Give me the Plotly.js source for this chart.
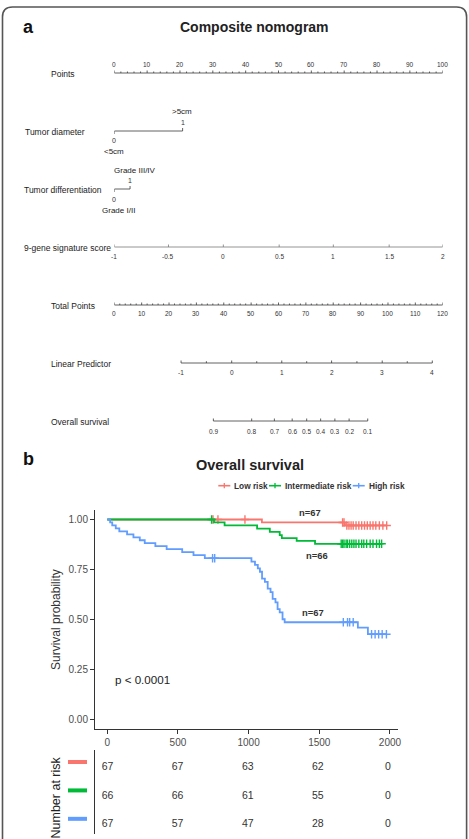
<!DOCTYPE html>
<html>
<head>
<meta charset="utf-8">
<script src="https://cdn.plot.ly/plotly-3.0.1.min.js"></script>
<style>
  html, body { margin: 0; padding: 0; background: #fff; }
  #chart { width: 469px; height: 839px; }
</style>
</head>
<body>
<div id="chart"></div>
<script>
// ---------------- Nomogram (panel a) ----------------
const pointsTicks = [0, 10, 20, 30, 40, 50, 60, 70, 80, 90, 100];
const totalTicks = [0, 10, 20, 30, 40, 50, 60, 70, 80, 90, 100, 110, 120];

const diameterLevels = ['<5cm', '>5cm'];
const diameterCodes = [0, 1];
const diameterPoints = [0, 20.8];

const gradeLevels = ['Grade I/II', 'Grade III/IV'];
const gradeCodes = [0, 1];
const gradePoints = [0, 4.8];

const scoreTicks = [-1, -0.5, 0, 0.5, 1, 1.5, 2];
const scorePoints = [0, 16.5, 33.2, 50.2, 66.7, 83.7, 100];

const lpTicks = [-1, 0, 1, 2, 3, 4];
const lpTotalPoints = [24.4, 42.9, 61.2, 79.4, 97.9, 116.2];

const osTicks = [0.9, 0.8, 0.7, 0.6, 0.5, 0.4, 0.3, 0.2, 0.1];
const osTotalPoints = [36.2, 50.2, 58.5, 65.0, 70.3, 75.4, 80.6, 85.8, 92.6];

// ---------------- Kaplan-Meier (panel b) ----------------
const groups = ['Low risk', 'Intermediate risk', 'High risk'];
const groupColors = ['#F8766D', '#00BA38', '#619CFF'];

const lowTime = [0, 1094, 1681];
const lowSurv = [1, 0.985, 0.970];
const lowCensor = [748, 783, 974, 1665, 1675, 1695, 1710, 1725, 1740, 1760, 1780, 1800, 1820, 1840, 1860, 1880, 1900, 1925, 1950, 1977];

const midTime = [0, 755, 830, 1060, 1150, 1220, 1235, 1340, 1470];
const midSurv = [1, 0.985, 0.970, 0.954, 0.938, 0.922, 0.907, 0.893, 0.878];
const midCensor = [738, 1655, 1665, 1675, 1690, 1700, 1715, 1730, 1745, 1760, 1780, 1800, 1815, 1835, 1860, 1880, 1905, 1925, 1941];

const highTime = [0, 20, 35, 60, 85, 140, 185, 230, 265, 340, 420, 530, 610, 690,
                  1020, 1045, 1065, 1080, 1095, 1115, 1135, 1155, 1170, 1190, 1205, 1220, 1240, 1255,
                  1773, 1844];
const highSurv = [1, 0.985, 0.970, 0.955, 0.940, 0.925, 0.910, 0.896, 0.881, 0.866, 0.851, 0.836, 0.821, 0.806,
                  0.789, 0.772, 0.755, 0.738, 0.704, 0.687, 0.653, 0.636, 0.602, 0.585, 0.551, 0.534, 0.500, 0.485,
                  0.458, 0.425];
const highCensor = [745, 760, 1670, 1700, 1715, 1740, 1870, 1895, 1920, 1945, 1975];

const groupCounts = ['n=67', 'n=66', 'n=67'];
const pValueText = 'p < 0.0001';

// Number at risk table
const riskTimes = [0, 500, 1000, 1500, 2000];
const lowRisk = [67, 67, 63, 62, 0];
const midRisk = [66, 66, 61, 55, 0];
const highRisk = [67, 57, 47, 28, 0];

// ---------------- helpers ----------------
const W = 469, H = 839;
const FONT = 'Liberation Sans, Arial, Helvetica, sans-serif';
const px = v => v / W;          // horizontal pixel -> paper fraction
const py = v => 1 - v / H;      // vertical pixel -> paper fraction
const ROWPX = 58;               // vertical spacing of nomogram rows in px
const AXCOL = '#3a3a3a';

const traces = [];
const annotations = [];
const shapes = [];

function ann(text, x, y, o) {
  return Object.assign({
    text, x, y, xref: 'paper', yref: 'paper', showarrow: false,
    xanchor: 'center', yanchor: 'middle',
    font: { family: FONT, size: 10, color: '#222' }
  }, o || {});
}

// one nomogram scale: base line plus tick marks (dirs: -1 up, +1 down)
function scaleTrace(row, xs, dirs, len, minor, minorLen, xa, color) {
  const x = [], y = [];
  x.push(Math.min(...xs), Math.max(...xs), null); y.push(row, row, null);
  xs.forEach((v, i) => { x.push(v, v, null); y.push(row, row + dirs[i] * len / ROWPX, null); });
  (minor || []).forEach(v => { x.push(v, v, null); y.push(row, row - minorLen / ROWPX, null); });
  return { type: 'scatter', mode: 'lines', x, y, xaxis: xa, yaxis: 'y',
           line: { color: color || AXCOL, width: 0.8 }, hoverinfo: 'skip' };
}
function tickLabels(row, xs, labels, shift, xa, size) {
  xs.forEach((v, i) => annotations.push({
    text: String(labels[i]), x: v, y: row, xref: xa, yref: 'y', yshift: shift,
    showarrow: false, xanchor: 'center', yanchor: 'middle',
    font: { family: FONT, size: size || 6.5, color: '#333' }
  }));
}
function rowLabel(text, row, xPix) {
  annotations.push({ text, x: px(xPix), y: row, xref: 'paper', yref: 'y', yshift: -1,
    showarrow: false, xanchor: 'left', yanchor: 'middle',
    font: { family: FONT, size: 8.5, color: '#222' } });
}
const up = xs => xs.map(() => -1);

// Row 0: Points
const pointsMinor = [];
for (let v = 0; v <= 100; v += 2) if (v % 10) pointsMinor.push(v);
traces.push(scaleTrace(0, pointsTicks, up(pointsTicks), 2.5, pointsMinor, 1.5, 'x'));
tickLabels(0, pointsTicks, pointsTicks, 8.7, 'x');
rowLabel('Points', 0, 49);

// Row 1: Tumor diameter
traces.push(scaleTrace(1, diameterPoints, [1, -1], 3, null, 0, 'x'));
tickLabels(1, [diameterPoints[0]], [diameterCodes[0]], -9, 'x', 7);
tickLabels(1, [diameterPoints[1]], [diameterCodes[1]], 9, 'x', 7);
annotations.push({ text: diameterLevels[0], x: diameterPoints[0], y: 1, xref: 'x', yref: 'y', yshift: -20,
  showarrow: false, font: { family: FONT, size: 8, color: '#222' } });
annotations.push({ text: diameterLevels[1], x: diameterPoints[1], y: 1, xref: 'x', yref: 'y', yshift: 20, xshift: -1,
  showarrow: false, font: { family: FONT, size: 8, color: '#222' } });
rowLabel('Tumor diameter', 1, 22.5);

// Row 2: Tumor differentiation
traces.push(scaleTrace(2, gradePoints, [1, -1], 3, null, 0, 'x'));
tickLabels(2, [gradePoints[0]], [gradeCodes[0]], -10, 'x', 7);
tickLabels(2, [gradePoints[1]], [gradeCodes[1]], 8.8, 'x', 7);
annotations.push({ text: gradeLevels[0], x: gradePoints[0], y: 2, xref: 'x', yref: 'y', yshift: -21.4, xshift: 4,
  showarrow: false, font: { family: FONT, size: 8, color: '#222' } });
annotations.push({ text: gradeLevels[1], x: gradePoints[1], y: 2, xref: 'x', yref: 'y', yshift: 18.6, xshift: 5,
  showarrow: false, font: { family: FONT, size: 8, color: '#222' } });
rowLabel('Tumor differentiation', 2, 22);

// Row 3: 9-gene signature score
traces.push(scaleTrace(3, scorePoints, up(scorePoints), 2.5, null, 0, 'x', '#7a7a7a'));
tickLabels(3, scorePoints, scoreTicks, -9.3, 'x');
rowLabel('9-gene signature score', 3, 22);

// Row 4: Total Points
const totalMinor = [];
for (let v = 0; v <= 120; v += 2) if (v % 10) totalMinor.push(v);
traces.push(scaleTrace(4, totalTicks, up(totalTicks), 2.5, totalMinor, 1.5, 'x2'));
tickLabels(4, totalTicks, totalTicks, -8.3, 'x2');
rowLabel('Total Points', 4, 49);

// Row 5: Linear Predictor (half-unit minor ticks between labelled values)
const lpMinor = lpTotalPoints.slice(1).map((v, i) => (v + lpTotalPoints[i]) / 2);
traces.push(scaleTrace(5, lpTotalPoints, up(lpTotalPoints), 2.5, lpMinor, 1.8, 'x2'));
tickLabels(5, lpTotalPoints, lpTicks, -9.3, 'x2');
rowLabel('Linear Predictor', 5, 49);

// Row 6: Overall survival
traces.push(scaleTrace(6, osTotalPoints, up(osTotalPoints), 2.5, null, 0, 'x2'));
tickLabels(6, osTotalPoints, osTicks, -10, 'x2');
rowLabel('Overall survival', 6, 49);

// ---------------- KM curves ----------------
function survAt(times, surv, t) {
  let s = surv[0];
  for (let i = 0; i < times.length; i++) if (times[i] <= t) s = surv[i];
  return s;
}
const kmSets = [
  [lowTime, lowSurv, lowCensor],
  [midTime, midSurv, midCensor],
  [highTime, highSurv, highCensor]
];
kmSets.forEach(([times, surv, cens], g) => {
  const end = Math.max(times[times.length - 1], ...cens);
  const x = times.concat([end]);
  const y = surv.concat([surv[surv.length - 1]]);
  traces.push({ type: 'scatter', mode: 'lines', x, y, xaxis: 'x3', yaxis: 'y3',
    line: { color: groupColors[g], width: 1.8, shape: 'hv' }, name: groups[g], hoverinfo: 'skip' });
  traces.push({ type: 'scatter', mode: 'markers', x: cens, y: cens.map(t => survAt(times, surv, t)),
    xaxis: 'x3', yaxis: 'y3',
    marker: { symbol: 'cross-thin', size: 6, color: groupColors[g], line: { color: groupColors[g], width: 1.4 } },
    hoverinfo: 'skip' });
});

// group size labels next to the curves
const countPos = [[1435, 1.034], [1481, 0.82], [1453, 0.532]];
groupCounts.forEach((t, i) => annotations.push({
  text: '<b>' + t + '</b>', x: countPos[i][0], y: countPos[i][1], xref: 'x3', yref: 'y3',
  showarrow: false, font: { family: FONT, size: 9.4, color: '#333' } }));
annotations.push({ text: pValueText, x: 42, y: 0.198, xref: 'x3', yref: 'y3', xanchor: 'left',
  showarrow: false, font: { family: FONT, size: 11.6, color: '#222' } });

// ---------------- risk table ----------------
const riskRows = [lowRisk, midRisk, highRisk];
riskRows.forEach((vals, r) => {
  traces.push({ type: 'scatter', mode: 'text', x: riskTimes, y: riskTimes.map(() => r + 1),
    text: vals.map(String), xaxis: 'x4', yaxis: 'y4', cliponaxis: false,
    textfont: { family: FONT, size: 10.5, color: '#333' }, hoverinfo: 'skip' });
  shapes.push({ type: 'line', xref: 'paper', yref: 'y4', x0: px(68), x1: px(87), y0: r + 0.8, y1: r + 0.8,
    line: { color: groupColors[r], width: 4 } });
});

// ---------------- manual legend ----------------
const legendSeg = [218.3, 269, 352.7];
const legendY = 485.7;
groups.forEach((g, i) => {
  const x0 = legendSeg[i], x1 = x0 + 12, xc = (x0 + x1) / 2;
  shapes.push({ type: 'line', xref: 'paper', yref: 'paper', x0: px(x0), x1: px(x1), y0: py(legendY), y1: py(legendY),
    line: { color: groupColors[i], width: 1.6 } });
  shapes.push({ type: 'line', xref: 'paper', yref: 'paper', x0: px(xc), x1: px(xc), y0: py(legendY - 2.6), y1: py(legendY + 2.6),
    line: { color: groupColors[i], width: 1.3 } });
  annotations.push(ann('<b>' + g + '</b>', px(x1 + 2), py(legendY),
    { xanchor: 'left', font: { family: FONT, size: 8.3, color: '#333' } }));
});

// ---------------- titles and panel letters ----------------
annotations.push(ann('<b>a</b>', px(28.5), py(26.5), { font: { family: FONT, size: 18, color: '#111' } }));
annotations.push(ann('<b>Composite nomogram</b>', px(254), py(26.7), { font: { family: FONT, size: 14, color: '#222' } }));
annotations.push(ann('<b>b</b>', px(28.5), py(459.5), { font: { family: FONT, size: 18, color: '#111' } }));
annotations.push(ann('<b>Overall survival</b>', px(249.5), py(465), { font: { family: FONT, size: 14.5, color: '#222' } }));
annotations.push(ann('Survival probability', px(56), py(620), { textangle: -90, font: { family: FONT, size: 12, color: '#333' } }));
annotations.push(ann('Number at risk', px(55.5), py(798), { textangle: -90, font: { family: FONT, size: 12.5, color: '#222' } }));

// ---------------- frame ----------------
const bx0 = px(2.5), bx1 = px(466.6), by0 = py(7), rx = 10 / W, ry = 10 / H;
shapes.push({ type: 'path', xref: 'paper', yref: 'paper',
  path: `M ${bx0},-0.05 L ${bx0},${by0 - ry} Q ${bx0},${by0} ${bx0 + rx},${by0} L ${bx1 - rx},${by0} Q ${bx1},${by0} ${bx1},${by0 - ry} L ${bx1},-0.05`,
  line: { color: '#555', width: 1.6 } });

const kmAxis = {
  showline: true, linecolor: '#333', linewidth: 1, ticks: 'outside', ticklen: 4,
  tickcolor: '#333', tickwidth: 1, showgrid: false, zeroline: false,
  tickfont: { family: FONT, size: 10, color: '#4d4d4d' }
};

const layout = {
  width: W, height: H,
  margin: { l: 0, r: 0, t: 0, b: 0 },
  paper_bgcolor: '#fff', plot_bgcolor: 'rgba(0,0,0,0)',
  showlegend: false,
  font: { family: FONT },
  xaxis: { domain: [px(114.3), px(442.7)], range: [0, 100], visible: false, anchor: 'y', fixedrange: true },
  xaxis2: { overlaying: 'x', range: [0, 120], visible: false, anchor: 'y', fixedrange: true },
  yaxis: { domain: [py(440), py(15)], range: [(440 - 73) / ROWPX, (15 - 73) / ROWPX], visible: false, anchor: 'x' },
  xaxis3: Object.assign({}, kmAxis, { domain: [px(95), px(398)], range: [-87, 2057], anchor: 'y3',
    tickvals: riskTimes }),
  yaxis3: Object.assign({}, kmAxis, { domain: [py(729), py(509.5)], range: [-0.05, 1.05], anchor: 'x3',
    tickvals: [0, 0.25, 0.5, 0.75, 1], tickformat: '.2f' }),
  xaxis4: { domain: [px(95), px(398)], range: [-89.1, 2071.3], visible: false, anchor: 'y4' },
  yaxis4: { domain: [py(834), py(750)], range: [1 + (834 - 767.7) / 28.4, 1 - (767.7 - 750) / 28.4], anchor: 'x4',
    showline: true, linecolor: '#333', linewidth: 1, ticks: '', showticklabels: false,
    showgrid: false, zeroline: false },
  annotations, shapes
};

Plotly.newPlot('chart', traces, layout, { displayModeBar: false, staticPlot: true });
</script>
</body>
</html>
